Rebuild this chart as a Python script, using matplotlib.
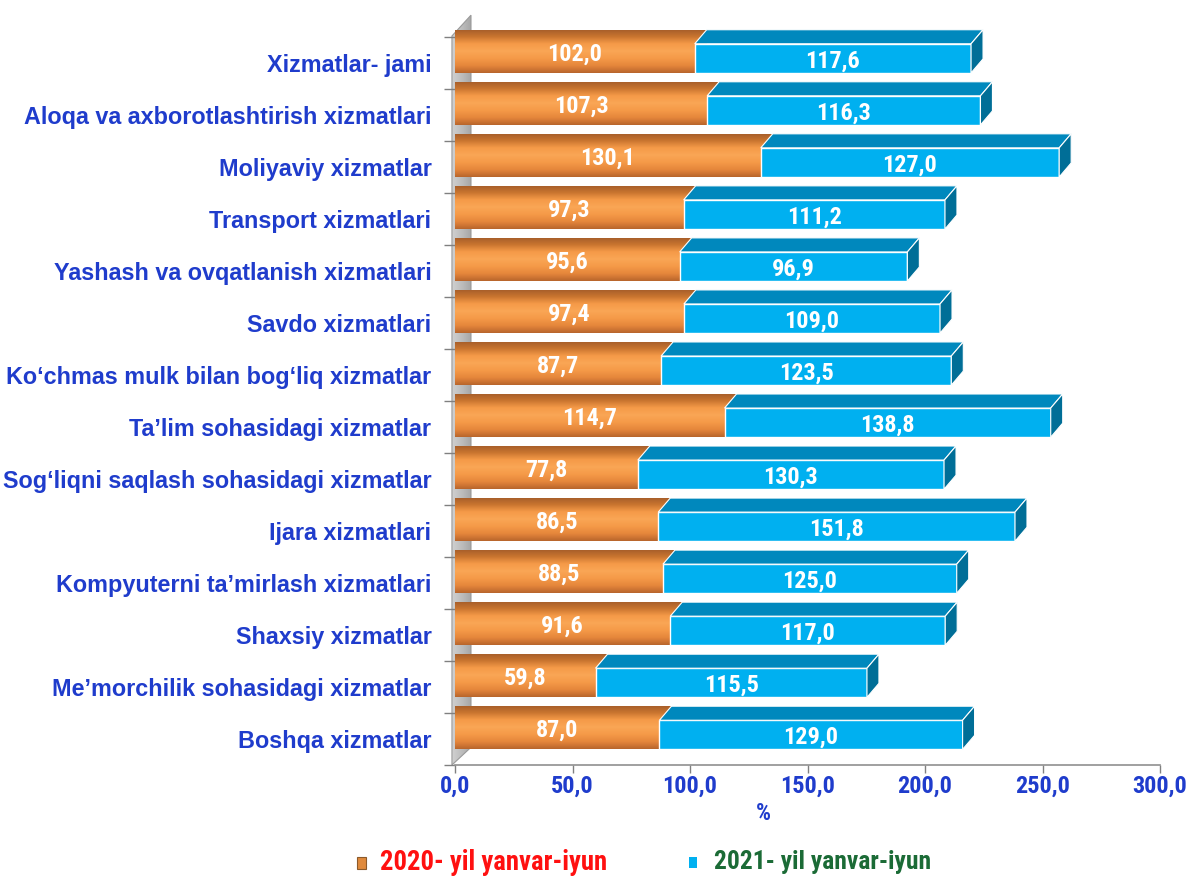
import matplotlib
matplotlib.use("Agg")
import matplotlib.pyplot as plt
from matplotlib import font_manager
from matplotlib.patches import Polygon, Rectangle
from matplotlib.colors import LinearSegmentedColormap
import numpy as np

categories = [
    "Xizmatlar- jami",
    "Aloqa va axborotlashtirish xizmatlari",
    "Moliyaviy xizmatlar",
    "Transport xizmatlari",
    "Yashash va ovqatlanish xizmatlari",
    "Savdo xizmatlari",
    "Ko\u2018chmas mulk bilan bog\u2018liq xizmatlar",
    "Ta\u2019lim sohasidagi xizmatlar",
    "Sog\u2018liqni saqlash sohasidagi xizmatlar",
    "Ijara xizmatlari",
    "Kompyuterni ta\u2019mirlash xizmatlari",
    "Shaxsiy xizmatlar",
    "Me\u2019morchilik sohasidagi xizmatlar",
    "Boshqa xizmatlar",
]
values_2020 = [102.0, 107.3, 130.1, 97.3, 95.6, 97.4, 87.7, 114.7, 77.8, 86.5, 88.5, 91.6, 59.8, 87.0]
values_2021 = [117.6, 116.3, 127.0, 111.2, 96.9, 109.0, 123.5, 138.8, 130.3, 151.8, 125.0, 117.0, 115.5, 129.0]
x_ticks = [0, 50, 100, 150, 200, 250, 300]
x_tick_labels = ["0,0", "50,0", "100,0", "150,0", "200,0", "250,0", "300,0"]
legend_labels = ["2020- yil yanvar-iyun", "2021- yil yanvar-iyun"]
axis_unit = "%"

available = {f.name for f in font_manager.fontManager.ttflist}
def pick(cands):
    for c in cands:
        if c in available:
            return c
    return "DejaVu Sans"
narrow = pick(["Liberation Sans Narrow", "Roboto Condensed", "Open Sans Condensed", "Liberation Sans"])
regular = pick(["Liberation Sans", "Arial", "DejaVu Sans"])

W, H = 1187, 877
fig = plt.figure(figsize=(W / 100, H / 100), dpi=100)
ax = fig.add_axes([455 / W, 1 - 765 / H, 705 / W, (765 - 36.5) / H])

n = len(categories)
ax.set_xlim(0, 300)
ax.set_ylim(n - 0.5, -0.5)

dx = 5.1      # depth in data units (x)
dy = 0.27     # depth in rows (y, upward)
off = -0.08   # face centre offset
hh = 0.28     # half height of front face

blue_front = "#00B0F0"
blue_top = "#0088BD"
blue_side = "#006E97"
orange_cmap = LinearSegmentedColormap.from_list(
    "org", ["#A35C2A", "#C8742F", "#F59A48", "#FAA655", "#F59A48", "#E5863B", "#B8652C"])
gray_cmap = LinearSegmentedColormap.from_list("gr", ["#D0D0D0", "#BDBDBD", "#A4A4A4"])
grad_v = np.linspace(0, 1, 256).reshape(-1, 1)
grad_h = np.linspace(0, 1, 256).reshape(1, -1)

# back wall
wall = Polygon([(-1.3, -0.51), (6.8, -0.91), (6.8, 13.16), (-1.3, n - 0.5)],
               closed=True, facecolor="none", edgecolor="#9A9A9A", lw=0.8,
               clip_on=False, zorder=1)
ax.add_patch(wall)
wim = ax.imshow(grad_h, cmap=gray_cmap, aspect="auto", extent=[-1.3, 6.8, n - 0.5, -0.91],
                zorder=0.9, clip_path=wall)
wim.set_clip_box(fig.bbox)

for i in range(n):
    v1 = values_2020[i]
    v2 = values_2021[i]
    c = i + off
    ftop = c - hh
    fbot = c + hh
    ttop = ftop - dy
    # orange cylinder-like bar
    orect = Polygon([(0, ttop), (v1 + dx, ttop), (v1 + dx, fbot), (0, fbot)], closed=True,
                    facecolor="none", edgecolor="none", clip_on=False, zorder=2)
    ax.add_patch(orect)
    oim = ax.imshow(grad_v, cmap=orange_cmap, aspect="auto", extent=[0, v1 + dx, fbot, ttop],
                    zorder=2, clip_path=orect)
    oim.set_clip_box(fig.bbox)
    # blue front
    ax.barh(c, v2, left=v1, height=2 * hh, color=blue_front, edgecolor="white", lw=1.0, zorder=3)
    # blue top face
    ax.add_patch(Polygon([(v1, ftop), (v1 + dx, ttop), (v1 + v2 + dx, ttop), (v1 + v2, ftop)],
                         closed=True, facecolor=blue_top, edgecolor="white", lw=0.8,
                         zorder=3, clip_on=False))
    # blue side face
    ax.add_patch(Polygon([(v1 + v2, ftop), (v1 + v2 + dx, ttop), (v1 + v2 + dx, fbot - dy), (v1 + v2, fbot)],
                         closed=True, facecolor=blue_side, edgecolor="white", lw=0.8,
                         zorder=3, clip_on=False))
    # labels
    ax.text(v1 / 2, c - 0.08, f"{v1:.1f}".replace(".", ","), ha="center", va="center",
            color="white", fontsize=17.5, fontweight="bold", family=narrow, zorder=5)
    ax.text(v1 + v2 / 2, c + 0.05, f"{v2:.1f}".replace(".", ","), ha="center", va="center",
            color="white", fontsize=17.5, fontweight="bold", family=narrow, zorder=5)

ax.set_xlim(0, 300)
ax.set_ylim(n - 0.5, -0.5)

label_color = "#1F3CCC"
ax.set_yticks(range(n))
ax.set_yticklabels(categories, fontsize=16.8, fontweight="bold", color=label_color, family=regular)
ax.tick_params(axis="y", which="major", length=0, pad=17)
ax.set_yticks(np.arange(-0.5, n, 1.0), minor=True)
ax.tick_params(axis="y", which="minor", length=8, width=1, color="#808080", direction="out")

ax.set_xticks(x_ticks)
ax.set_xticklabels(x_tick_labels, fontsize=17.5, fontweight="bold", color=label_color, family=narrow)
ax.tick_params(axis="x", length=6, width=1, color="#808080", direction="out", pad=1)

for s in ["top", "right", "left"]:
    ax.spines[s].set_visible(False)
ax.spines["bottom"].set_color("#909090")
ax.spines["bottom"].set_linewidth(1.2)
ax.spines["bottom"].set_zorder(6)

fig.text(763 / W, 1 - 814 / H, axis_unit, ha="center", va="center", fontsize=17,
         fontweight="bold", color=label_color, family=narrow)

# legend
fig.patches.append(Rectangle((357 / W, 1 - 869 / H), 9 / W, 12 / H, transform=fig.transFigure,
                             facecolor="#E08A3C", edgecolor="#8C5A2A", lw=0.8))
fig.text(380 / W, 1 - 862 / H, legend_labels[0], ha="left", va="center", fontsize=19.2,
         fontweight="bold", color="#FF1010", family=narrow)
fig.patches.append(Rectangle((689 / W, 1 - 868 / H), 8 / W, 11 / H, transform=fig.transFigure,
                             facecolor="#00B0F0", edgecolor="none"))
fig.text(714 / W, 1 - 862 / H, legend_labels[1], ha="left", va="center", fontsize=18.4,
         fontweight="bold", color="#1B6B36", family=narrow)

fig.savefig("out.png", dpi=100, facecolor="white")
